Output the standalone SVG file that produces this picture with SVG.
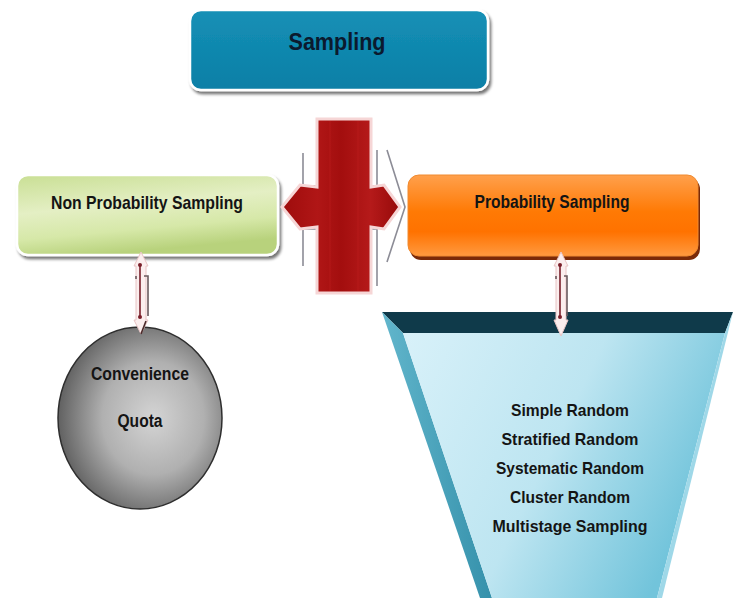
<svg xmlns="http://www.w3.org/2000/svg" width="742" height="600" viewBox="0 0 742 600">
  <defs>
    <linearGradient id="gBlue" x1="0" y1="0" x2="0" y2="1">
      <stop offset="0" stop-color="#1590b6"/>
      <stop offset="1" stop-color="#0b7fa6"/>
    </linearGradient>
    <linearGradient id="gGreen" x1="0" y1="0" x2="0.3" y2="1">
      <stop offset="0" stop-color="#c9df94"/>
      <stop offset="0.45" stop-color="#e4efc4"/>
      <stop offset="0.75" stop-color="#d6e8a8"/>
      <stop offset="1" stop-color="#b8d27c"/>
    </linearGradient>
    <linearGradient id="gOrange" x1="0" y1="0" x2="0" y2="1">
      <stop offset="0" stop-color="#ffa04c"/>
      <stop offset="0.45" stop-color="#ff7a05"/>
      <stop offset="0.7" stop-color="#ff7200"/>
      <stop offset="1" stop-color="#ff9a40"/>
    </linearGradient>
    <radialGradient id="gGray" cx="0.58" cy="0.5" r="0.62">
      <stop offset="0" stop-color="#d4d4d4"/>
      <stop offset="0.5" stop-color="#b0b0b0"/>
      <stop offset="1" stop-color="#555555"/>
    </radialGradient>
    <linearGradient id="gFront" x1="0" y1="0" x2="1" y2="0.4">
      <stop offset="0" stop-color="#d8f1f9"/>
      <stop offset="0.55" stop-color="#bde5f1"/>
      <stop offset="1" stop-color="#72c4db"/>
    </linearGradient>
    <linearGradient id="gSide" x1="0" y1="0" x2="1" y2="0">
      <stop offset="0" stop-color="#62b6cc"/>
      <stop offset="1" stop-color="#3591ab"/>
    </linearGradient>
    <linearGradient id="gRed" x1="0" y1="0" x2="1" y2="0">
      <stop offset="0" stop-color="#9e0c0c"/>
      <stop offset="0.3" stop-color="#b01616"/>
      <stop offset="0.5" stop-color="#a30e0e"/>
      <stop offset="0.75" stop-color="#b51a1a"/>
      <stop offset="1" stop-color="#960a0a"/>
    </linearGradient>
    <filter id="shadow" x="-10%" y="-10%" width="120%" height="130%">
      <feGaussianBlur in="SourceAlpha" stdDeviation="1.5"/>
      <feOffset dx="2" dy="3" result="b"/>
      <feComponentTransfer><feFuncA type="linear" slope="0.55"/></feComponentTransfer>
      <feMerge><feMergeNode/><feMergeNode in="SourceGraphic"/></feMerge>
    </filter>
  </defs>
  <style>
    .lbl { font-family: "Liberation Sans", Arial, sans-serif; font-weight: bold; fill: #141414; text-anchor: middle; }
    .box { stroke: #ffffff; stroke-width: 2.5; filter: url(#shadow); }
    .link-fill { fill: #fbeeee; stroke: #e8c4c4; stroke-width: 1; }
    .link-line { stroke: #7a1f2a; stroke-width: 1.6; fill: none; }
    .link-dot { fill: #7a1f2a; }
    .link-side { stroke: #6a5a5e; stroke-width: 1.6; fill: none; }
    .ghost { stroke: #8c8c96; stroke-width: 1.6; fill: none; }
  </style>

  <rect width="742" height="600" fill="#ffffff"/>

  <!-- top node -->
  <g id="sampling">
    <rect class="box" x="190" y="10" width="298" height="80" rx="11" fill="url(#gBlue)"/>
    <text class="lbl" x="337" y="50" font-size="24" textLength="97" lengthAdjust="spacingAndGlyphs" style="fill:#0b1a2e">Sampling</text>
  </g>

  <!-- left branch -->
  <g id="non-probability">
    <rect class="box" x="17" y="175" width="261" height="80" rx="11" fill="url(#gGreen)"/>
    <text class="lbl" x="147" y="209" font-size="19" textLength="192" lengthAdjust="spacingAndGlyphs">Non Probability Sampling</text>
  </g>

  <!-- right branch -->
  <g id="probability">
    <rect x="410" y="178" width="290" height="82" rx="11" fill="#7a2a08"/>
    <rect x="408" y="175" width="290" height="81" rx="11" fill="url(#gOrange)" stroke="#f08a30" stroke-width="1"/>
    <text class="lbl" x="552" y="208" font-size="19" textLength="155" lengthAdjust="spacingAndGlyphs">Probability Sampling</text>
  </g>

  <!-- central four-way arrow -->
  <g id="cross">
    <path class="ghost" d="M303,153 V186 H316 M303,266 V229 H316 M377,150 V186 H371 M377,286 V229 H371 M387,150 L405,207 L387,262"/>
    <path d="M282,207 L300,185 L317,187 L317,119 L371,119 L371,187 L384,185 L400,207 L384,229 L371,227 L371,293 L317,293 L317,227 L300,229 Z"
          fill="url(#gRed)" stroke="#f6d6d6" stroke-width="3" stroke-linejoin="miter"/>
    <path d="M330,121 V291 M358,121 V291" stroke="#c02020" stroke-width="1" opacity="0.5"/>
  </g>

  <!-- circle node -->
  <g id="non-probability-methods">
    <ellipse cx="140" cy="418" rx="82" ry="91" fill="url(#gGray)" stroke="#2e2e2e" stroke-width="1.5"/>
    <text class="lbl" x="140" y="380" font-size="18" textLength="98" lengthAdjust="spacingAndGlyphs">Convenience</text>
    <text class="lbl" x="140" y="427" font-size="18" textLength="45" lengthAdjust="spacingAndGlyphs">Quota</text>
  </g>

  <!-- funnel node -->
  <g id="probability-methods">
    <polygon points="382,312 733,312 725,333 403,333" fill="#0f3a4a"/>
    <polygon points="382,312 403,333 492,598 480,598" fill="url(#gSide)"/>
    <polygon points="403,333 725,333 657,598 492,598" fill="url(#gFront)"/>
    <polygon points="725,333 733,312 662,598 657,598" fill="#9fd8e8"/>
    <g font-size="17" lengthAdjust="spacingAndGlyphs">
      <text class="lbl" x="570" y="416" textLength="118" lengthAdjust="spacingAndGlyphs">Simple Random</text>
      <text class="lbl" x="570" y="445" textLength="137" lengthAdjust="spacingAndGlyphs">Stratified Random</text>
      <text class="lbl" x="570" y="474" textLength="148" lengthAdjust="spacingAndGlyphs">Systematic Random</text>
      <text class="lbl" x="570" y="503" textLength="120" lengthAdjust="spacingAndGlyphs">Cluster Random</text>
      <text class="lbl" x="570" y="532" textLength="155" lengthAdjust="spacingAndGlyphs">Multistage Sampling</text>
    </g>
  </g>

  <!-- connectors -->
  <g id="connectors">
    <g id="link-left">
      <path class="link-fill" d="M141,252 L148,266 L146,266 L146,320 L148,320 L141,334 L134,320 L136,320 L136,266 L134,266 Z"/>
      <line class="link-line" x1="140" y1="265" x2="140" y2="317"/>
      <circle class="link-dot" cx="140" cy="265" r="2"/>
      <circle class="link-dot" cx="140" cy="317" r="2"/>
      <path class="link-side" d="M144,276 H148 V316"/>
      <line class="link-side" x1="136" y1="276" x2="136" y2="279"/>
      <line x1="146" y1="321" x2="141" y2="334" stroke="#4a2a2a" stroke-width="1.6"/>
    </g>
    <g id="link-right">
      <path class="link-fill" d="M561,252 L568,266 L566,266 L566,320 L568,320 L561,336 L554,320 L556,320 L556,266 L554,266 Z"/>
      <line class="link-line" x1="560" y1="265" x2="560" y2="317"/>
      <circle class="link-dot" cx="560" cy="265" r="2"/>
      <circle class="link-dot" cx="560" cy="317" r="2"/>
      <path class="link-side" d="M564,276 H567 V316"/>
      <line class="link-side" x1="556" y1="276" x2="556" y2="279"/>
    </g>
  </g>
</svg>
